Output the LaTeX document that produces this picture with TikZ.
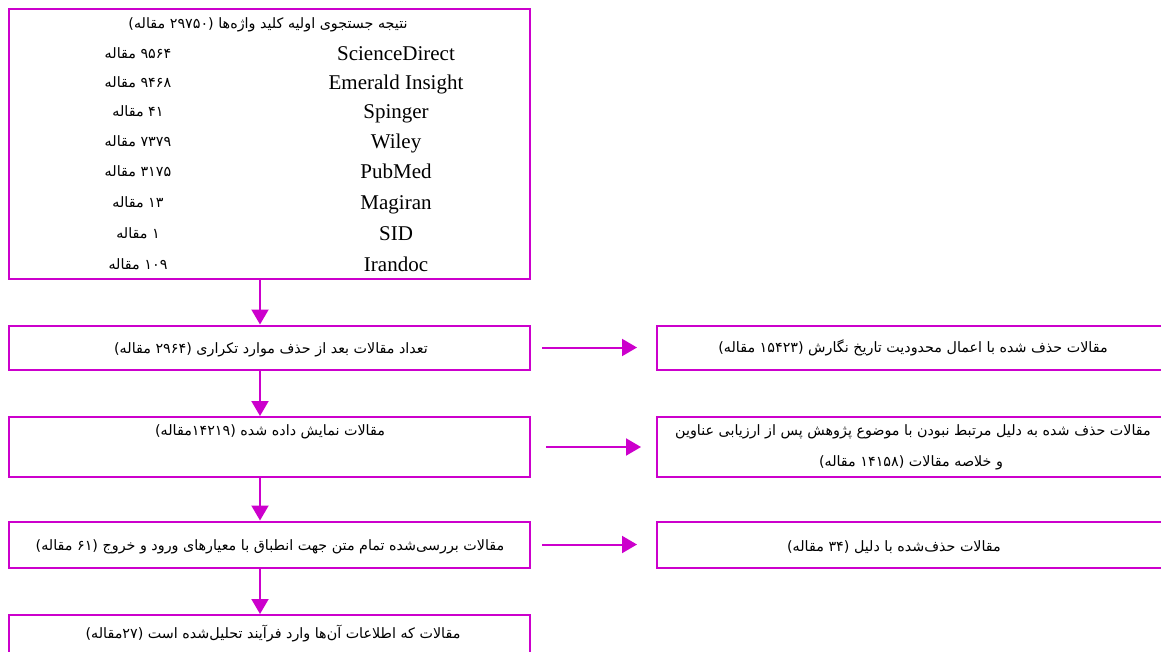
\documentclass[tikz,border=0pt]{standalone}
\usepackage{fontspec}
\setmainfont{Liberation Serif}
\newfontfamily\fafont[Script=Arabic]{DejaVu Sans}
\TeXXeTstate=1
\usetikzlibrary{arrows.meta}
\definecolor{mag}{RGB}{204,0,204}
\newcommand\fatext[1]{\beginR#1\endR}
\begin{document}
\begin{tikzpicture}[x=1pt,y=-1pt,
  box/.style={draw=mag, line width=2pt, rectangle, inner sep=0pt},
  fa/.style={font=\fafont\fontsize{14.3}{17}\selectfont, inner sep=0pt},
  lat/.style={font=\fontsize{21}{24}\selectfont, inner sep=0pt, anchor=base},
  arr/.style={draw=mag, line width=2pt, -{Triangle[length=15pt,width=17pt]}}]
\useasboundingbox (0,0) rectangle (1161,651);
\fill[white] (0,0) rectangle (1161,651);
\clip (0,0) rectangle (1161,651);
\coordinate (ax) at (260,0);
% left column boxes
\node[box, minimum width=521pt, minimum height=270pt] (top) at (269.5,144) {};
\node[box, minimum width=521pt, minimum height=44pt] (b2) at (269.5,347.5) {};
\node[box, minimum width=521pt, minimum height=60pt] (b3) at (269.5,447) {};
\node[box, minimum width=521pt, minimum height=46pt] (b4) at (269.5,544.5) {};
\node[box, minimum width=521pt, minimum height=65pt] (b5) at (269.5,647.5) {};
% right column boxes
\node[box, minimum width=518pt, minimum height=44pt] (rA) at (916,347.5) {};
\node[box, minimum width=518pt, minimum height=60pt] (rB) at (916,447) {};
\node[box, minimum width=518pt, minimum height=46pt] (rC) at (916,544.5) {};
% top box content
\node[fa] (t0) at (268,25) {\fatext{نتیجه جستجوی اولیه کلید واژه‌ها (۲۹۷۵۰ مقاله)}};
\node[lat] (l1) at (396,60) {ScienceDirect};
\node[lat] (l2) at (396,89) {Emerald Insight};
\node[lat] (l3) at (396,118) {Spinger};
\node[lat] (l4) at (396,148) {Wiley};
\node[lat] (l5) at (396,178) {PubMed};
\node[lat] (l6) at (396,209) {Magiran};
\node[lat] (l7) at (396,240) {SID};
\node[lat] (l8) at (396,271) {Irandoc};
\node[fa] (n1) at (138,53) {\fatext{۹۵۶۴ مقاله}};
\node[fa] (n2) at (138,82) {\fatext{۹۴۶۸ مقاله}};
\node[fa] (n3) at (138,111) {\fatext{۴۱ مقاله}};
\node[fa] (n4) at (138,141) {\fatext{۷۳۷۹ مقاله}};
\node[fa] (n5) at (138,171) {\fatext{۳۱۷۵ مقاله}};
\node[fa] (n6) at (138,202) {\fatext{۱۳ مقاله}};
\node[fa] (n7) at (138,233) {\fatext{۱ مقاله}};
\node[fa] (n8) at (138,264) {\fatext{۱۰۹ مقاله}};
% other texts
\node[fa] (t2) at (271,350) {\fatext{تعداد مقالات بعد از حذف موارد تکراری (۲۹۶۴ مقاله)}};
\node[fa] (t3) at (270,432) {\fatext{مقالات نمایش داده شده (۱۴۲۱۹مقاله)}};
\node[fa] (t4) at (270,547) {\fatext{مقالات بررسی‌شده تمام متن جهت انطباق با معیارهای ورود و خروج (۶۱ مقاله)}};
\node[fa] (t5) at (273,634) {\fatext{مقالات که اطلاعات آن‌ها وارد فرآیند تحلیل‌شده است (۲۷مقاله)}};
\node[fa] (tA) at (913,348) {\fatext{مقالات حذف شده با اعمال محدودیت تاریخ نگارش (۱۵۴۲۳ مقاله)}};
\node[fa] (tB1) at (913,432) {\fatext{مقالات حذف شده به دلیل مرتبط نبودن با موضوع پژوهش پس از ارزیابی عناوین}};
\node[fa] (tB2) at (911,463) {\fatext{و خلاصه مقالات (۱۴۱۵۸ مقاله)}};
\node[fa] (tC) at (894,547) {\fatext{مقالات حذف‌شده با دلیل (۳۴ مقاله)}};
% arrows
\draw[arr] (top.south -| ax) -- (b2.north -| ax);
\draw[arr] (b2.south -| ax) -- (b3.north -| ax);
\draw[arr] (b3.south -| ax) -- (b4.north -| ax);
\draw[arr] (b4.south -| ax) -- (b5.north -| ax);
\draw[arr] ([xshift=11pt]b2.east) -- ([xshift=-19pt]rA.west);
\draw[arr] ([xshift=15pt]b3.east) -- ([xshift=-15pt]rB.west);
\draw[arr] ([xshift=11pt]b4.east) -- ([xshift=-19pt]rC.west);
\end{tikzpicture}
\end{document}
